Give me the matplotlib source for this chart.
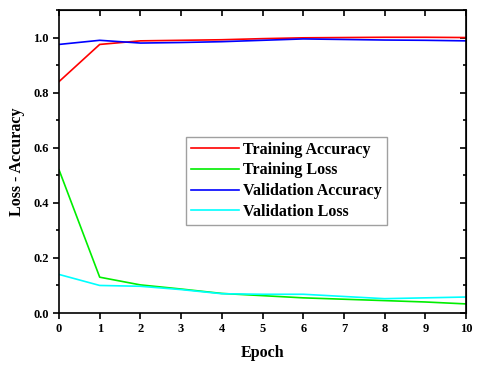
import numpy as np
from matplotlib import pyplot as plt
from matplotlib.ticker import MultipleLocator

epochs = list(range(11))
train_acc = [0.84, 0.975, 0.988, 0.990, 0.992, 0.996, 0.999, 1.000, 1.001, 1.001, 1.000]
train_loss = [0.52, 0.13, 0.102, 0.087, 0.071, 0.063, 0.055, 0.050, 0.045, 0.040, 0.033]
val_acc = [0.975, 0.990, 0.980, 0.982, 0.985, 0.990, 0.995, 0.993, 0.991, 0.990, 0.988]
val_loss = [0.14, 0.100, 0.097, 0.085, 0.070, 0.068, 0.068, 0.060, 0.052, 0.055, 0.058]

plt.rcParams['font.family'] = ['Liberation Serif', 'DejaVu Serif']
plt.rcParams['font.weight'] = 'bold'

fig = plt.figure(figsize=(4.8, 3.67), dpi=100)
ax = fig.add_axes([59 / 480, 54 / 367, 407 / 480, 303 / 367])

ax.plot(epochs, train_acc, color='#ff0000', lw=1.2, label='Training Accuracy')
ax.plot(epochs, train_loss, color='#00ee00', lw=1.2, label='Training Loss')
ax.plot(epochs, val_acc, color='#0000ff', lw=1.2, label='Validation Accuracy')
ax.plot(epochs, val_loss, color='#00ffff', lw=1.2, label='Validation Loss')

ax.set_xlim(0, 10)
ax.set_ylim(0, 1.1)
ax.xaxis.set_major_locator(MultipleLocator(1))
ax.yaxis.set_major_locator(MultipleLocator(0.2))
ax.yaxis.set_minor_locator(MultipleLocator(0.1))
ax.yaxis.set_major_formatter(plt.FormatStrFormatter('%.1f'))

ax.tick_params(which='both', labelsize=9, width=1.2, direction='out')
ax.tick_params(which='major', length=4)
ax.tick_params(which='minor', length=2.5)
# top/right ticks point inward
sec_x = ax.secondary_xaxis('top')
sec_x.xaxis.set_major_locator(MultipleLocator(1))
sec_x.tick_params(direction='in', length=4, width=1.2, labeltop=False)
sec_y = ax.secondary_yaxis('right')
sec_y.yaxis.set_major_locator(MultipleLocator(0.2))
sec_y.yaxis.set_minor_locator(MultipleLocator(0.1))
sec_y.tick_params(which='major', direction='in', length=4, width=1.2, labelright=False)
sec_y.tick_params(which='minor', direction='in', length=2.5, width=1.2)

for s in ax.spines.values():
    s.set_linewidth(1.2)

ax.set_xlabel('Epoch', fontsize=11.5, fontweight='bold', labelpad=7)
ax.set_ylabel('Loss - Accuracy', fontsize=11.5, fontweight='bold', labelpad=6)

leg = ax.legend(loc='center', bbox_to_anchor=(0.559, 0.436),
                fancybox=False, edgecolor='#888888', handlelength=3.0,
                handletextpad=0.3, labelspacing=0.3, borderpad=0.3,
                prop={'weight': 'bold', 'size': 11.5})
leg.get_frame().set_linewidth(1.0)

fig.savefig('out.png', dpi=100)
